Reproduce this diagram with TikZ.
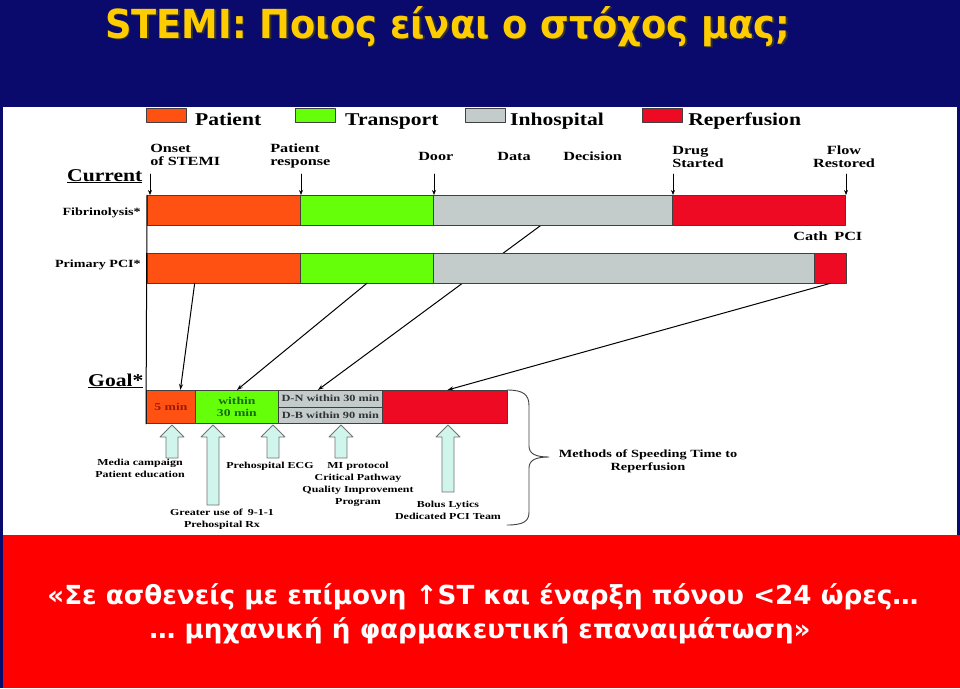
\documentclass[tikz,border=0pt]{standalone}
\usepackage{fontspec}
\setmainfont{Liberation Serif}
\newfontfamily\slidefont{DejaVu Sans}
\usetikzlibrary{calc,positioning,arrows.meta}

\definecolor{slideblue}{HTML}{0A0A6C}
\definecolor{slidered}{HTML}{FF0000}
\definecolor{titleyellow}{HTML}{FFCC00}
\definecolor{ptorange}{HTML}{FF5212}
\definecolor{trgreen}{HTML}{66FF0A}
\definecolor{hsgray}{HTML}{C3CBCB}
\definecolor{rpred}{HTML}{EE0A22}
\definecolor{hollowfill}{HTML}{CFF5EC}
\definecolor{minred}{HTML}{9A1A0A}
\definecolor{mingreen}{HTML}{1A6A10}

\pgfdeclarelayer{back}
\pgfdeclarelayer{mid}
\pgfsetlayers{back,mid,main}

\begin{document}
\begin{tikzpicture}[
				x=1pt, y=-1pt,
				line cap=round,
				line join=round,
				seg/.style={draw=black!75, line width=0.8pt, inner sep=0pt, anchor=north west, minimum height=29.5},
				legendtxt/.style={font=\bfseries\fontsize{18}{20}\selectfont, xscale=1.2, inner sep=0pt, anchor=base west},
				milestone/.style={font=\bfseries\fontsize{12.5}{13}\selectfont, xscale=1.3, inner sep=0pt, align=left, anchor=north west},
				rowtxt/.style={font=\bfseries\fontsize{11}{12}\selectfont, xscale=1.28, inner sep=0pt, anchor=base east},
				headtxt/.style={font=\bfseries\fontsize{18}{20}\selectfont, xscale=1.2, inner sep=0pt, anchor=base west},
				goaltxt/.style={font=\bfseries\fontsize{10.5}{12.5}\selectfont},
				methodtxt/.style={font=\bfseries\fontsize{9.2}{12}\selectfont, xscale=1.3, inner sep=0pt, align=center, anchor=north},
				tick/.style={-{Stealth[length=5pt,width=4pt]}, line width=0.7pt},
				link/.style={-{Stealth[length=6pt,width=4pt]}, line width=1pt},
				hollow/.style={draw=black!55, fill=hollowfill, line width=0.8pt}
				]
				\useasboundingbox (0,0) rectangle (960,688);
				
				% Slide background
				\begin{pgfonlayer}{back}
				\fill[slideblue] (0,0) rectangle (960,688);
				\fill[white] (3,107) rectangle (957,535);
				\fill[slidered] (3,535) rectangle (960,688);
				\end{pgfonlayer}
				
				% Title
				\node[anchor=base west, inner sep=0pt, xscale=0.92, text=black!80, font=\slidefont\bfseries\fontsize{40}{44}\selectfont] (titleshade) at (106.5,39.5) {STEMI: Ποιος είναι ο στόχος μας;};
				\node[anchor=base west, inner sep=0pt, xscale=0.92, text=titleyellow, font=\slidefont\bfseries\fontsize{40}{44}\selectfont] (title) at (105,38) {STEMI: Ποιος είναι ο στόχος μας;};
				
				% Legend
				\node[seg, fill=ptorange, minimum width=40, minimum height=14] (kpat) at (146,108) {};
				\node[legendtxt] (kpattxt) at (195,125) {Patient};
				\node[seg, fill=trgreen, minimum width=40, minimum height=14] (ktra) at (295,108) {};
				\node[legendtxt] (ktratxt) at (345,125) {Transport};
				\node[seg, fill=hsgray, minimum width=40, minimum height=14] (khos) at (465,108) {};
				\node[legendtxt] (khostxt) at (510,125) {Inhospital};
				\node[seg, fill=rpred, minimum width=40, minimum height=14] (krep) at (642,108) {};
				\node[legendtxt] (kreptxt) at (688,125) {Reperfusion};
				
				% Milestones
				\node[milestone] (onset) at (150,144) {Onset\\of STEMI};
				\node[milestone] (presp) at (270,144) {Patient\\response};
				\node[milestone, anchor=base west] (door) at (418,160) {Door};
				\node[milestone, anchor=base west] (data) at (497,160) {Data};
				\node[milestone, anchor=base west] (decis) at (563,160) {Decision};
				\node[milestone] (drug) at (672,146) {Drug\\Started};
				\node[milestone, align=center, anchor=north] (flow) at (844,146) {Flow\\Restored};
				\node[headtxt] (current) at (67,181) {\underline{Current}};
				
				% Current: fibrinolysis
				\node[seg, fill=ptorange, minimum width=153] (fo) at (147,195) {};
				\node[seg, fill=trgreen, minimum width=133] (fg) at (300,195) {};
				\node[seg, fill=hsgray, minimum width=239] (fh) at (433,195) {};
				\node[seg, fill=rpred, minimum width=173] (fr) at (672,195) {};
				\node[rowtxt] (fibtxt) at (141,215) {Fibrinolysis*};
				
				% Current: primary PCI
				\node[seg, fill=ptorange, minimum width=153] (po) at (147,253) {};
				\node[seg, fill=trgreen, minimum width=133] (pg) at (300,253) {};
				\node[seg, fill=hsgray, minimum width=381] (ph) at (433,253) {};
				\node[seg, fill=rpred, minimum width=32] (pr) at (814,253) {};
				\node[rowtxt] (pcitxt) at (141,267) {Primary PCI*};
				\node[milestone, anchor=base west] (cath) at (793,240) {Cath\, PCI};
				
				% Ticks down to the bars
				\coordinate (t1) at (150,174);
				\coordinate (t2) at (301,174);
				\coordinate (t3) at (434,174);
				\coordinate (t4) at (673,174);
				\coordinate (t5) at (846,174);
				\foreach \t in {t1,t2,t3,t4,t5}
					\draw[tick] (\t) -- (\t |- fo.north);
				
				% Goal bar
				\node[headtxt] (goal) at (88,386) {\underline{Goal*}};
				\node[seg, fill=ptorange, minimum width=49, minimum height=33] (go) at (146,390) {};
				\node[goaltxt, xscale=1.3, text=minred] (gotxt) at (go.center) {5 min};
				\node[seg, fill=trgreen, minimum width=83, minimum height=33] (gg) at (195,390) {};
				\node[goaltxt, xscale=1.3, text=mingreen, align=center] (ggtxt) at (gg.center) {within\\30 min};
				\node[seg, fill=hsgray, minimum width=104, minimum height=16.5] (gh1) at (278,390) {};
				\node[goaltxt, xscale=1.3, font=\bfseries\fontsize{9.5}{10}\selectfont, text=black!80] (gh1txt) at (gh1.center) {D-N within 30 min};
				\node[seg, fill=hsgray, minimum width=104, minimum height=16.5] (gh2) at (278,406.5) {};
				\node[goaltxt, xscale=1.3, font=\bfseries\fontsize{9.5}{10}\selectfont, text=black!80] (gh2txt) at (gh2.center) {D-B within 90 min};
				\node[seg, fill=rpred, minimum width=125, minimum height=33] (gr) at (382,390) {};
				
				% Left edge line
				\draw[line width=1pt] (fo.north west) -- (go.south west);
				
				% Links current -> goal
				\begin{pgfonlayer}{mid}
				\draw[link] ($(fh.south west)!0.45!(fh.south east)$) -- ($(gh1.north west)!0.38!(gh1.north east)$);
				\end{pgfonlayer}
				\draw[link] ($(po.south west)!0.31!(po.south east)$) -- ($(go.north west)!0.69!(go.north east)$);
				\draw[link] (pg.south) -- (gg.north);
				\draw[link] (pr.south) -- ($(gr.north west)!0.52!(gr.north east)$);
				
				% Hollow arrows
				\foreach \x/\yb in {172/458, 213/505, 273/458, 341/458, 448/492}
					\draw[hollow] ({\x-6},\yb) -- ({\x-6},437) -- ({\x-12},437) -- (\x,425) -- ({\x+12},437) -- ({\x+6},437) -- ({\x+6},\yb) -- cycle;
				
				% Methods
				\node[methodtxt] (media) at (140,459) {Media campaign\\Patient education};
				\node[methodtxt] (call) at (222,509) {Greater use of\, 9-1-1\\Prehospital Rx};
				\node[methodtxt] (ecg) at (270,462) {Prehospital ECG};
				\node[methodtxt] (protocol) at (358,462) {MI protocol\\Critical Pathway\\Quality Improvement\\Program};
				\node[methodtxt] (bolus) at (448,501) {Bolus Lytics\\Dedicated PCI Team};
				
				% Brace
				\draw[line width=0.9pt, black!75] (507,390) .. controls (524,390) and (529,395) .. (529,406) -- (529,446) .. controls (529,454) and (536,457) .. (549,457) .. controls (536,457) and (529,460) .. (529,468) -- (529,512) .. controls (529,521) and (524,525) .. (507,525);
				\node[methodtxt, font=\bfseries\fontsize{11}{13}\selectfont] (speed) at (648,450) {Methods of Speeding Time to\\Reperfusion};
				
				% Bottom quote
				\node[anchor=base, inner sep=0pt, text=white, font=\slidefont\bfseries\fontsize{26.2}{30}\selectfont] (quote1) at (483,604) {«Σε ασθενείς με επίμονη ↑ST και έναρξη πόνου <24 ώρες…};
				\node[anchor=base, inner sep=0pt, text=white, font=\slidefont\bfseries\fontsize{26.2}{30}\selectfont] (quote2) at (480,638) {… μηχανική ή φαρμακευτική επαναιμάτωση»};
			\end{tikzpicture}
\end{document}
